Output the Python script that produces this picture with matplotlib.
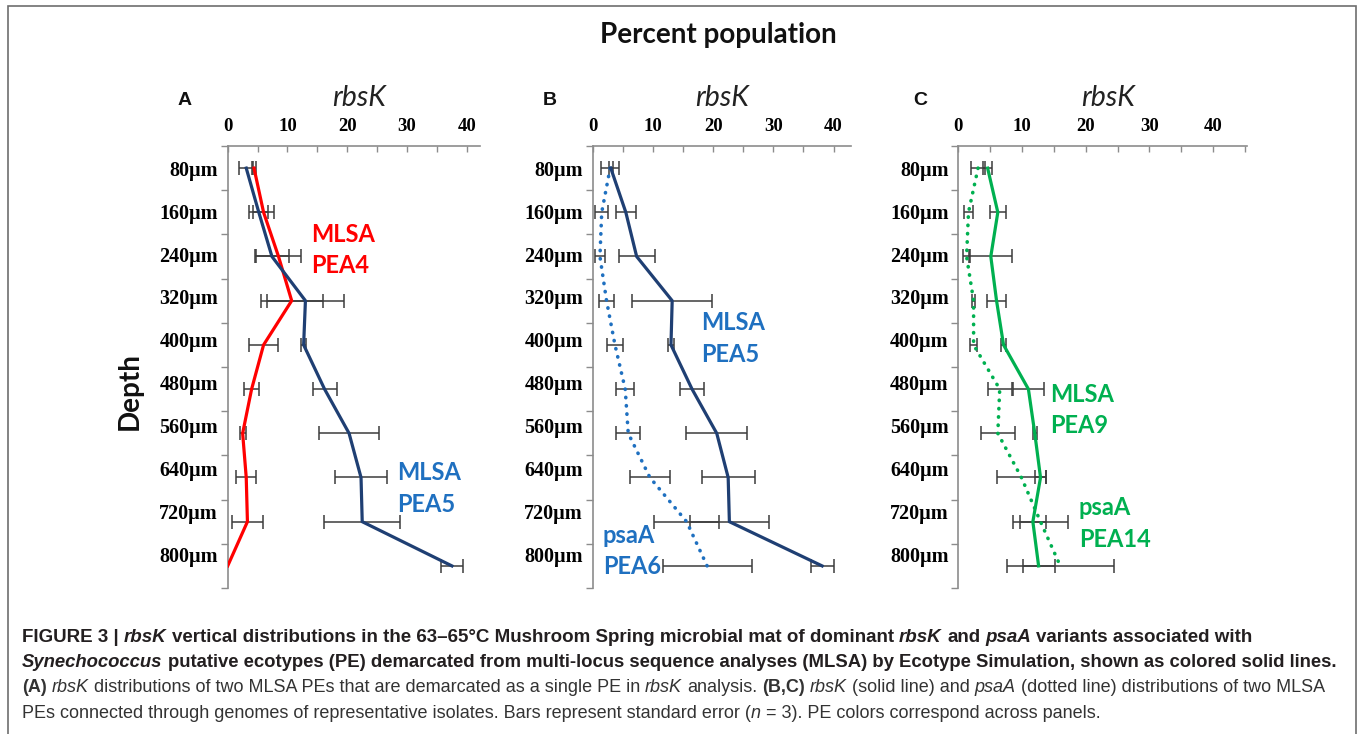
import matplotlib
matplotlib.use("Agg")
import matplotlib.pyplot as plt
from matplotlib.patches import Rectangle
import numpy as np

W, H = 1360, 734

depths = ["80µm", "160µm", "240µm", "320µm", "400µm",
          "480µm", "560µm", "640µm", "720µm", "800µm"]

# panel A: rbsK, two MLSA PEs
a_pea4 = [4.4, 6.0, 8.5, 10.7, 6.0, 4.0, 2.5, 3.1, 3.3, 0.0]
a_pea4_err = [0.4, 1.8, 3.8, 5.2, 2.4, 1.3, 0.5, 1.7, 2.6, 0.0]
a_pea5 = [3.1, 5.2, 7.4, 13.0, 12.7, 16.2, 20.3, 22.3, 22.5, 37.5]
a_pea5_err = [1.2, 1.6, 2.9, 6.4, 0.45, 2.0, 5.0, 4.3, 6.4, 1.9]

# panel B: rbsK (solid) and psaA (dotted)
b_pea5 = [3.0, 5.5, 7.3, 13.2, 13.0, 16.5, 20.6, 22.5, 22.7, 38.1]
b_pea5_err = [0.3, 1.7, 3.0, 6.6, 0.5, 2.0, 5.1, 4.4, 6.5, 1.9]
b_pea6 = [2.9, 1.5, 1.2, 2.3, 3.7, 5.4, 5.9, 9.5, 15.6, 19.0]
b_pea6_err = [1.45, 1.1, 0.9, 1.25, 1.3, 1.5, 2.0, 3.3, 5.45, 7.4]

# panel C: rbsK (solid) and psaA (dotted)
c_pea9 = [4.6, 6.2, 5.1, 6.0, 7.1, 11.0, 12.0, 12.9, 11.7, 12.6]
c_pea9_err = [0.7, 1.3, 3.4, 1.5, 0.4, 2.4, 0.3, 0.8, 2.0, 2.5]
c_pea14 = [3.1, 1.6, 1.3, 2.4, 2.4, 6.5, 6.2, 9.9, 12.9, 16.0]
c_pea14_err = [1.1, 0.7, 0.6, 0.25, 0.5, 1.9, 2.7, 3.9, 4.3, 8.4]

RED = "#ff0000"
NAVY = "#1f3f73"
BLUE = "#1f70c0"
GREEN = "#00b050"
DOTS = (0, (0.1, 2.2))

fig = plt.figure(figsize=(13.6, 7.34), dpi=100)


def fx(x):
    return x / W


def fy(y):
    return 1 - y / H


def panel(x0, x1, xmax, series):
    ax = fig.add_axes([fx(x0), fy(588), (x1 - x0) / W, (588 - 146) / H])
    pos = np.arange(len(depths))
    for vals, errs, color, ls in series:
        vals = np.array(vals)
        errs = np.array(errs)
        m = errs > 0
        ax.errorbar(vals[m], pos[m], xerr=errs[m], fmt="none", ecolor="#3c3c3c",
                    elinewidth=1.1, capsize=5, capthick=1.1, zorder=2)
        if ls == "-":
            ax.plot(vals, pos, color=color, lw=2.3, solid_joinstyle="round", zorder=3)
        else:
            ax.plot(vals, pos, color=color, lw=2.6, ls=DOTS,
                    dash_capstyle="round", zorder=3)
    ax.set_xlim(0, xmax)
    ax.set_ylim(9.5, -0.5)
    ax.xaxis.tick_top()
    ax.set_xticks([0, 10, 20, 30, 40])
    ax.set_xticks([5, 15, 25, 35, 45] if xmax > 45 else [5, 15, 25, 35], minor=True)
    # the depth labels in the original sit on a slightly tighter pitch than the rows
    ax.set_yticks(pos * 0.972)
    ax.set_yticklabels(depths)
    ax.set_yticks(np.arange(-0.5, 10, 1), minor=True)
    ax.tick_params(axis="x", which="both", direction="in", length=4, color="#8c8c8c",
                   width=1, pad=8)
    ax.tick_params(axis="y", which="major", length=0, pad=7)
    ax.tick_params(axis="y", which="minor", direction="out", length=5,
                   color="#8c8c8c", width=1)
    for lab in ax.get_xticklabels():
        lab.set_fontfamily("Liberation Serif")
        lab.set_fontweight("bold")
        lab.set_fontsize(13.5)
    for lab in ax.get_yticklabels():
        lab.set_fontfamily("Liberation Serif")
        lab.set_fontweight("bold")
        lab.set_fontsize(14.5)
    for s in ["right", "bottom"]:
        ax.spines[s].set_visible(False)
    for s in ["left", "top"]:
        ax.spines[s].set_color("#8c8c8c")
        ax.spines[s].set_linewidth(1.2)
    ax.patch.set_alpha(0)
    return ax


panel(227.7, 480, 42.2, [(a_pea4, a_pea4_err, RED, "-"),
                         (a_pea5, a_pea5_err, NAVY, "-")])
panel(592.7, 851, 42.9, [(b_pea6, b_pea6_err, BLUE, ":"),
                         (b_pea5, b_pea5_err, NAVY, "-")])
panel(958.3, 1247, 45.3, [(c_pea14, c_pea14_err, GREEN, ":"),
                          (c_pea9, c_pea9_err, GREEN, "-")])

# frame round the figure
fig.patches.append(Rectangle((fx(8), fy(760)), (1356 - 8) / W, (760 - 6) / H,
                             transform=fig.transFigure, fill=False,
                             edgecolor="#6e6e6e", lw=1.2))

fig.text(fx(718), fy(43), "Percent population", family="Lato", weight="bold",
         fontsize=20, ha="center", va="baseline", color="#111111")
fig.text(fx(130), fy(391), "Depth", family="Lato", weight="bold", fontsize=20,
         rotation=90, ha="center", va="center", color="#111111")

for x, letter in [(185, "A"), (550, "B"), (920, "C")]:
    fig.text(fx(x), fy(105), letter, family="Liberation Sans", weight="bold",
             fontsize=14, ha="center", va="baseline", color="#111111")
for x in [359, 722.5, 1108]:
    fig.text(fx(x), fy(106), "rbsK", family="Lato", style="italic", fontsize=20.5,
             ha="center", va="baseline", color="#222222")

labels = [(311, 242, 273, "MLSA", "PEA4", RED),
          (397, 480, 512, "MLSA", "PEA5", BLUE),
          (701, 330, 362, "MLSA", "PEA5", BLUE),
          (603, 543, 574, "psaA", "PEA6", BLUE),
          (1050, 402, 433, "MLSA", "PEA9", GREEN),
          (1079, 515, 547, "psaA", "PEA14", GREEN)]
for x, y1, y2, t1, t2, col in labels:
    fig.text(fx(x), fy(y1), t1, family="Lato", weight="bold", fontsize=17,
             color=col, va="baseline")
    fig.text(fx(x), fy(y2), t2, family="Lato", weight="bold", fontsize=17,
             color=col, va="baseline")

# caption, written as runs of (text, weight, style)
renderer = fig.canvas.get_renderer()


def text_width(s, size, weight, style):
    t = fig.text(0, 0, s, family="Liberation Sans", fontsize=size,
                 weight=weight, style=style)
    w = t.get_window_extent(renderer).width
    t.remove()
    return w


def run_width(s, size, weight, style):
    if style == "italic":
        # italic runs hold no spaces; the ink box is close enough
        return text_width(s, size, weight, style)
    # bracket the run so that its spaces are counted too
    return (text_width("|" + s + "|", size, weight, style)
            - text_width("||", size, weight, style))


def line_width(parts, size):
    return sum(run_width(s, size, w, st) for s, w, st in parts)


def draw_line(parts, x, y, size, color):
    for s, wgt, sty in parts:
        lead = len(s) - len(s.lstrip(" "))
        core = s.strip(" ")
        if core:
            off = run_width(" " * lead, size, wgt, sty) if lead else 0
            fig.text(fx(x + off), fy(y), core, family="Liberation Sans", fontsize=size,
                     weight=wgt, style=sty, color=color, va="baseline")
        x += run_width(s, size, wgt, sty)


B, N, I = "bold", "normal", "italic"
line1 = [("FIGURE 3 | ", B, N), ("rbsK", B, I),
         (" vertical distributions in the 63–65°C Mushroom Spring microbial mat of dominant ", B, N),
         ("rbsK", B, I), (" and ", B, N), ("psaA", B, I), (" variants associated with", B, N)]
line2 = [("Synechococcus", B, I),
         (" putative ecotypes (PE) demarcated from multi-locus sequence analyses (MLSA) by Ecotype Simulation, shown as colored solid lines.", B, N)]
line3 = [("(A)", B, N), (" ", N, N), ("rbsK", N, I),
         (" distributions of two MLSA PEs that are demarcated as a single PE in ", N, N),
         ("rbsK", N, I), (" analysis. ", N, N), ("(B,C)", B, N), (" ", N, N),
         ("rbsK", N, I), (" (solid line) and ", N, N), ("psaA", N, I),
         (" (dotted line) distributions of two MLSA", N, N)]
line4 = [("PEs connected through genomes of representative isolates. Bars represent standard error (", N, N),
         ("n", N, I), (" = 3). PE colors correspond across panels.", N, N)]

s1 = 12 * (1247 - 22) / line_width(line1, 12)
s2 = 12 * (1338 - 22) / line_width(line2, 12)
s3 = 12 * (1323 - 22) / line_width(line3, 12)
draw_line(line1, 22, 642, s1, "#231f20")
draw_line(line2, 22, 667, s2, "#231f20")
draw_line(line3, 22, 692, s3, "#333333")
draw_line(line4, 22, 718, s3, "#333333")

fig.savefig("out.png", dpi=100)
